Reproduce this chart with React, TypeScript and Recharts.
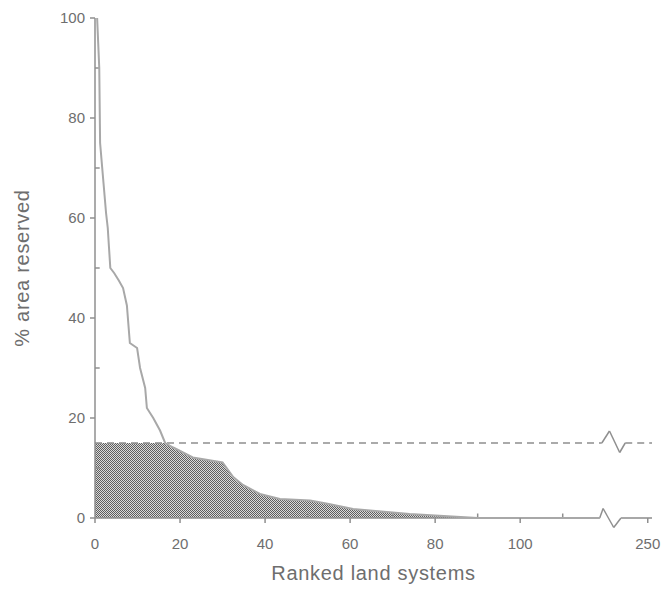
import React from "react";
import {
  ComposedChart,
  Area,
  Line,
  XAxis,
  YAxis,
  ReferenceLine,
  Label,
} from "recharts";

// axis position of each point (the x axis is broken after ~120, 250 sits at 130)
const ranks = [
  0, 0.5, 1, 1.2, 2, 2.6, 3, 3.3, 3.6, 4.5, 5.6, 6.6, 7.5, 8.2, 9.9, 10.6, 11.8,
  12.2, 13.7, 15.3, 16.5, 18.4, 23, 30, 32.5, 34.8, 38.8, 43.5, 50.6, 55, 60.7,
  74, 86, 90, 118.7, 121, 123.7, 131,
];
const reserved = [
  null, 100, 90, 75, 67, 61, 58, 54, 50, 49, 47.5, 46, 42.5, 35, 34, 30, 26, 22,
  20, 17.5, 15, 14.1, 12.1, 11.1, 8.2, 6.6, 4.8, 3.8, 3.5, 2.8, 1.8, 0.8, 0.2, 0,
  0, null, 0, 0,
];
const shaded = [
  15, 15, 15, 15, 15, 15, 15, 15, 15, 15, 15, 15, 15, 15, 15, 15, 15, 15, 15, 15,
  15, 14.1, 12.1, 11.1, 8.2, 6.6, 4.8, 3.8, 3.5, 2.8, 1.8, 0.8, 0.2, 0, null,
  null, null, null,
];

const target = 15;
const xTicks = [0, 20, 40, 60, 80, 100, 130];
const xTickLabels = ["0", "20", "40", "60", "80", "100", "250"];
const yTicks = [0, 20, 40, 60, 80, 100];
const yMinor = [10, 30, 50, 70, 90];
const xMinor = [30, 50, 70, 90, 110];

const data = ranks.map((x, i) => ({
  x,
  reserved: reserved[i],
  shaded: shaded[i],
}));

const grey = "#8f8f8f";
const textGrey = "#6e6e6e";

export default function App() {
  return (
    <div
      style={{
        position: "absolute",
        left: 0,
        top: 0,
        width: 662,
        height: 590,
        background: "#fff",
        fontFamily: "'Liberation Sans', Arial, sans-serif",
      }}
    >
      <ComposedChart
        width={662}
        height={590}
        data={data}
        margin={{ top: 18, right: 10, bottom: 0, left: 0 }}
      >
        <defs>
          <pattern
            id="checker"
            width="2"
            height="2"
            patternUnits="userSpaceOnUse"
          >
            <rect width="2" height="2" fill="#dadada" />
            <rect width="1" height="1" fill="#5e5e5e" />
            <rect x="1" y="1" width="1" height="1" fill="#5e5e5e" />
          </pattern>
        </defs>
        <XAxis
          dataKey="x"
          type="number"
          domain={[0, 131]}
          ticks={xTicks}
          tickFormatter={(v) => xTickLabels[xTicks.indexOf(v)] ?? ""}
          axisLine={false}
          tickLine={{ stroke: grey, strokeWidth: 1.5 }}
          tickSize={5}
          tickMargin={15}
          tick={{ fill: textGrey, fontSize: 15 }}
          height={72}
          allowDataOverflow
        >
          <Label
            value="Ranked land systems"
            position="insideBottom"
            offset={10}
            style={{ fill: textGrey, fontSize: 20, letterSpacing: 0.7 }}
          />
        </XAxis>
        <YAxis
          type="number"
          domain={[0, 100]}
          ticks={yTicks}
          width={95}
          axisLine={{ stroke: grey, strokeWidth: 1.5 }}
          tickLine={{ stroke: grey, strokeWidth: 1.5 }}
          tickSize={5}
          tickMargin={5}
          tick={{ fill: textGrey, fontSize: 15 }}
        >
          <Label
            content={({ viewBox }: any) => {
              const cx = 22;
              const cy = viewBox.y + viewBox.height / 2;
              return (
                <text
                  x={cx}
                  y={cy}
                  transform={`rotate(-90 ${cx} ${cy})`}
                  textAnchor="middle"
                  dominantBaseline="central"
                  fill={textGrey}
                  fontSize={20}
                  letterSpacing={0.7}
                >
                  % area reserved
                </text>
              );
            }}
          />
        </YAxis>
        <Area
          dataKey="shaded"
          type="linear"
          stroke="none"
          fill="url(#checker)"
          fillOpacity={1}
          connectNulls={false}
          isAnimationActive={false}
        />
        {/* x axis line, broken */}
        <ReferenceLine
          segment={[{ x: 0, y: 0 }, { x: 118.7, y: 0 }]}
          stroke={grey}
          strokeWidth={1.5}
          ifOverflow="visible"
        />
        <ReferenceLine
          segment={[{ x: 123.7, y: 0 }, { x: 131, y: 0 }]}
          stroke={grey}
          strokeWidth={1.5}
          ifOverflow="visible"
        />
        {yMinor.map((v) => (
          <ReferenceLine
            key={"ym" + v}
            segment={[{ x: 0, y: v }, { x: 1.1, y: v }]}
            stroke={grey}
            strokeWidth={1.5}
            ifOverflow="visible"
          />
        ))}
        {xMinor.map((v) => (
          <ReferenceLine
            key={"xm" + v}
            segment={[{ x: v, y: 0 }, { x: v, y: 0.9 }]}
            stroke={grey}
            strokeWidth={1.5}
            ifOverflow="visible"
          />
        ))}
        {/* 15% target line with axis break */}
        <ReferenceLine
          segment={[{ x: 0, y: target }, { x: 119.2, y: target }]}
          stroke={grey}
          strokeWidth={1.5}
          strokeDasharray="7 5"
          ifOverflow="visible"
        />
        <ReferenceLine
          segment={[{ x: 124.7, y: target }, { x: 131, y: target }]}
          stroke={grey}
          strokeWidth={1.5}
          strokeDasharray="7 5"
          ifOverflow="visible"
        />
        <ReferenceLine
          segment={[{ x: 119.2, y: 15 }, { x: 121, y: 17.4 }]}
          stroke={grey}
          strokeWidth={1.5}
          ifOverflow="visible"
        />
        <ReferenceLine
          segment={[{ x: 121, y: 17.4 }, { x: 123.4, y: 13.1 }]}
          stroke={grey}
          strokeWidth={1.5}
          ifOverflow="visible"
        />
        <ReferenceLine
          segment={[{ x: 123.4, y: 13.1 }, { x: 124.7, y: 15 }]}
          stroke={grey}
          strokeWidth={1.5}
          ifOverflow="visible"
        />
        <ReferenceLine
          segment={[{ x: 118.7, y: 0 }, { x: 119.5, y: 1.9 }]}
          stroke={grey}
          strokeWidth={1.5}
          ifOverflow="visible"
        />
        <ReferenceLine
          segment={[{ x: 119.5, y: 1.9 }, { x: 122, y: -1.9 }]}
          stroke={grey}
          strokeWidth={1.5}
          ifOverflow="visible"
        />
        <ReferenceLine
          segment={[{ x: 122, y: -1.9 }, { x: 123.7, y: 0 }]}
          stroke={grey}
          strokeWidth={1.5}
          ifOverflow="visible"
        />
        <Line
          dataKey="reserved"
          type="linear"
          stroke="#a8a8a8"
          strokeWidth={2}
          dot={false}
          connectNulls={false}
          isAnimationActive={false}
        />
      </ComposedChart>
    </div>
  );
}
